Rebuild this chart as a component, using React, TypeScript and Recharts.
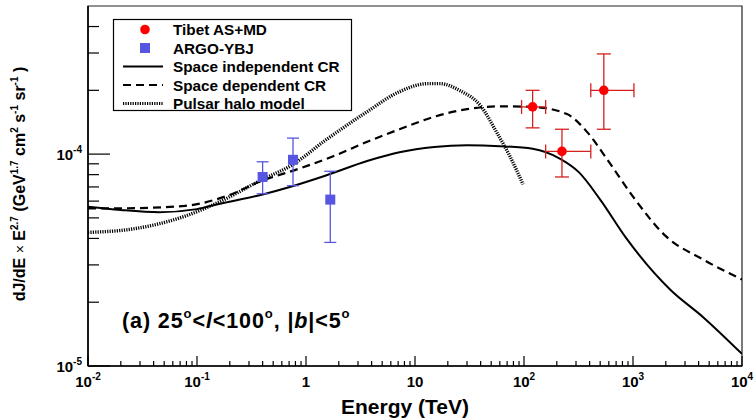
import {
  ComposedChart,
  ErrorBar,
  Line,
  ReferenceArea,
  Scatter,
  XAxis,
  YAxis,
} from "recharts";

const FONT = '"Liberation Sans", Arial, Helvetica, sans-serif';

// model curves: energy (TeV) and dJ/dE x E^2.7
const spaceIndepE = [0.01, 0.02, 0.045, 0.1, 0.155, 0.4, 0.75, 1.5, 3.7, 7.2, 15, 30, 60, 120, 215, 320, 500, 870, 2200, 4400, 10000];
const spaceIndepFlux = [5.65e-5, 5.45e-5, 5.32e-5, 5.5e-5, 5.8e-5, 6.45e-5, 7.05e-5, 7.9e-5, 9.3e-5, 1.02e-4, 1.08e-4, 1.1e-4, 1.09e-4, 1.06e-4, 9.5e-5, 8.2e-5, 6.1e-5, 4.0e-5, 2.29e-5, 1.7e-5, 1.14e-5];

const spaceDepE = [0.01, 0.02, 0.078, 0.18, 0.4, 0.9, 1.8, 3.6, 7.2, 15, 30, 60, 120, 245, 380, 575, 1000, 2000, 4400, 10000];
const spaceDepFlux = [5.55e-5, 5.55e-5, 5.7e-5, 6.3e-5, 7.5e-5, 8.6e-5, 9.8e-5, 1.14e-4, 1.31e-4, 1.5e-4, 1.63e-4, 1.68e-4, 1.67e-4, 1.55e-4, 1.27e-4, 9.5e-5, 6.3e-5, 4.1e-5, 3.18e-5, 2.56e-5];

const pulsarE = [0.01, 0.027, 0.078, 0.155, 0.4, 0.75, 1.5, 3.6, 7.2, 13, 17, 26, 40, 56, 74, 98];
const pulsarFlux = [4.27e-5, 4.45e-5, 5.1e-5, 5.9e-5, 7.6e-5, 8.9e-5, 1.16e-4, 1.58e-4, 1.97e-4, 2.15e-4, 2.15e-4, 1.99e-4, 1.69e-4, 1.27e-4, 9.8e-5, 7.2e-5];

// measurements
const tibetE = [120, 223, 540];
const tibetELow = [95, 158, 410];
const tibetEHigh = [158, 410, 1020];
const tibetFlux = [1.67e-4, 1.03e-4, 2.0e-4];
const tibetFluxLow = [1.33e-4, 7.8e-5, 1.31e-4];
const tibetFluxHigh = [2.0e-4, 1.31e-4, 2.97e-4];

const argoE = [0.4, 0.76, 1.67];
const argoFlux = [7.8e-5, 9.4e-5, 6.1e-5];
const argoFluxLow = [6.5e-5, 7.1e-5, 3.83e-5];
const argoFluxHigh = [9.2e-5, 1.19e-4, 8.3e-5];

// axis ticks
const xMajorTicks = [0.01, 0.1, 1, 10, 100, 1000, 10000];
const xTickBase = ["10", "10", "1", "10", "10", "10", "10"];
const xTickExp = ["-2", "-1", "", "", "2", "3", "4"];
const xMinorTicks = [0.01, 0.1, 1, 10, 100, 1000].flatMap((d) =>
  [2, 3, 4, 5, 6, 7, 8, 9].map((m) => m * d)
);
const yMajorTicks = [1e-5, 1e-4];
const yTickBase = ["10", "10"];
const yTickExp = ["-5", "-4"];
const yMinorTicks = [2e-5, 3e-5, 4e-5, 5e-5, 6e-5, 7e-5, 8e-5, 9e-5, 2e-4, 3e-4, 4e-4];

const toLine = (xs: number[], ys: number[]) => xs.map((x, i) => ({ x, y: ys[i] }));

const spaceIndepData = toLine(spaceIndepE, spaceIndepFlux);
const spaceDepData = toLine(spaceDepE, spaceDepFlux);
const pulsarData = toLine(pulsarE, pulsarFlux);

const tibetData = tibetE.map((x, i) => ({
  x,
  y: tibetFlux[i],
  ex: [x - tibetELow[i], tibetEHigh[i] - x],
  ey: [tibetFlux[i] - tibetFluxLow[i], tibetFluxHigh[i] - tibetFlux[i]],
}));

const argoData = argoE.map((x, i) => ({
  x,
  y: argoFlux[i],
  ey: [argoFlux[i] - argoFluxLow[i], argoFluxHigh[i] - argoFlux[i]],
}));

const findMajor = (ticks: number[], v: number) =>
  ticks.findIndex((t) => Math.abs(t - v) / t < 1e-6);

function XTick({ x, y, payload }: any) {
  const i = findMajor(xMajorTicks, payload.value);
  const len = i >= 0 ? 10 : 5;
  return (
    <g>
      <line x1={x} x2={x} y1={y} y2={y - len} stroke="#000" strokeWidth={1.2} />
      {i >= 0 && (
        <text x={x} y={y + 21} textAnchor="middle" fontFamily={FONT} fontWeight="bold" fontSize={15} fill="#000">
          {xTickBase[i]}
          {xTickExp[i] && (
            <tspan dy={-7} fontSize={10}>
              {xTickExp[i]}
            </tspan>
          )}
        </text>
      )}
    </g>
  );
}

function YTick({ x, y, payload }: any) {
  const i = findMajor(yMajorTicks, payload.value);
  const len = i >= 0 ? 22 : 11;
  return (
    <g>
      <line x1={x} x2={x + len} y1={y} y2={y} stroke="#000" strokeWidth={1.2} />
      {i >= 0 && (
        <text x={x - 6} y={y + 6} textAnchor="end" fontFamily={FONT} fontWeight="bold" fontSize={15} fill="#000">
          {yTickBase[i]}
          <tspan dy={-7} fontSize={10}>
            {yTickExp[i]}
          </tspan>
        </text>
      )}
    </g>
  );
}

function XTitle({ viewBox }: any) {
  return (
    <text x={viewBox.x + 317} y={viewBox.y + 48} textAnchor="middle" fontFamily={FONT} fontWeight="bold" fontSize={21} fill="#000">
      Energy (TeV)
    </text>
  );
}

function YTitle() {
  const sup = (s: string) => (
    <>
      <tspan dy={-7} fontSize={10}>{s}</tspan>
      <tspan dy={7}> </tspan>
    </>
  );
  return (
    <text
      transform="translate(25,184) rotate(-90)"
      textAnchor="middle"
      fontFamily={FONT}
      fontWeight="bold"
      fontSize={16}
      fill="#000"
    >
      dJ/dE <tspan fontWeight="normal" fontSize={14}>×</tspan> E{sup("2.7")}(GeV{sup("1.7")}cm{sup("2")}s{sup("-1")}sr{sup("-1")}
      )
    </text>
  );
}

const redCircle = (p: any) => <circle cx={p.cx} cy={p.cy} r={4.8} fill="#ff0000" />;
const blueSquare = (p: any) => <rect x={p.cx - 5} y={p.cy - 5} width={10} height={10} fill="#5656e0" />;

const legendRows = [
  { name: "Tibet AS+MD", kind: "circle" },
  { name: "ARGO-YBJ", kind: "square" },
  { name: "Space independent CR", kind: "solid" },
  { name: "Space dependent CR", kind: "dashed" },
  { name: "Pulsar halo model", kind: "dotted" },
];

function LegendBox() {
  return (
    <svg width={755} height={419} style={{ position: "absolute", left: 0, top: 0, pointerEvents: "none" }}>
      <rect x={113.5} y={19.5} width={238} height={91} fill="#fff" stroke="#000" strokeWidth={1.2} />
      {legendRows.map((r, i) => {
        const cy = 29.5 + i * 18.5;
        return (
          <g key={r.name}>
            {r.kind === "circle" && <circle cx={145} cy={cy} r={4.8} fill="#ff0000" />}
            {r.kind === "square" && <rect x={140} y={cy - 5} width={10} height={10} fill="#5656e0" />}
            {r.kind === "solid" && <line x1={123} x2={163} y1={cy} y2={cy} stroke="#000" strokeWidth={2} />}
            {r.kind === "dashed" && (
              <line x1={123} x2={163} y1={cy} y2={cy} stroke="#000" strokeWidth={2.2} strokeDasharray="8 5" />
            )}
            {r.kind === "dotted" && (
              <line x1={123} x2={163} y1={cy} y2={cy} stroke="#000" strokeWidth={3.2} strokeDasharray="1.2 1.2" />
            )}
            <text x={173} y={cy + 5.5} fontFamily={FONT} fontWeight="bold" fontSize={15.3} fill="#000">
              {r.name}
            </text>
          </g>
        );
      })}
      <text x={122} y={328} fontFamily={FONT} fontWeight="bold" fontSize={21.5} letterSpacing={0.9} fill="#000">
        (a) 25
        <tspan dy={-10} fontSize={13}>o</tspan>
        <tspan dy={10}>&lt;</tspan>
        <tspan fontStyle="italic">l</tspan>
        &lt;100
        <tspan dy={-10} fontSize={13}>o</tspan>
        <tspan dy={10}>, |</tspan>
        <tspan fontStyle="italic">b</tspan>
        |&lt;5
        <tspan dy={-10} fontSize={13}>o</tspan>
      </text>
    </svg>
  );
}

export default function App() {
  return (
    <div style={{ position: "absolute", left: 0, top: 0, width: 755, height: 419, background: "#fff" }}>
      <ComposedChart width={755} height={419} margin={{ top: 6, right: 13, bottom: 0, left: 0 }}>
        <ReferenceArea
          x1={0.01}
          x2={10000}
          y1={1e-5}
          y2={5e-4}
          fill="none"
          stroke="#222"
          strokeWidth={1.2}
          ifOverflow="visible"
        />
        <XAxis
          dataKey="x"
          type="number"
          scale="log"
          domain={[0.01, 10000]}
          allowDataOverflow
          ticks={[...xMajorTicks, ...xMinorTicks].sort((a, b) => a - b)}
          interval={0}
          tickSize={0}
          tickMargin={0}
          tickLine={false}
          tick={<XTick />}
          height={53}
          axisLine={{ stroke: "#000", strokeWidth: 1.6 }}
          label={{ content: <XTitle /> }}
        />
        <YAxis
          dataKey="y"
          type="number"
          scale="log"
          domain={[1e-5, 5e-4]}
          allowDataOverflow
          ticks={[...yMajorTicks, ...yMinorTicks].sort((a, b) => a - b)}
          interval={0}
          tickSize={0}
          tickMargin={0}
          tickLine={false}
          tick={<YTick />}
          width={88}
          axisLine={{ stroke: "#000", strokeWidth: 1.6 }}
          label={{ content: <YTitle /> }}
        />
        <Line data={spaceIndepData} dataKey="y" type="monotone" stroke="#000" strokeWidth={2} dot={false} isAnimationActive={false} />
        <Line
          data={spaceDepData}
          dataKey="y"
          type="monotone"
          stroke="#000"
          strokeWidth={2.2}
          strokeDasharray="8 5"
          dot={false}
          isAnimationActive={false}
        />
        <Line
          data={pulsarData}
          dataKey="y"
          type="monotone"
          stroke="#000"
          strokeWidth={3.4}
          strokeDasharray="1.2 1.2"
          dot={false}
          isAnimationActive={false}
        />
        <Scatter data={argoData} dataKey="y" shape={blueSquare} isAnimationActive={false}>
          <ErrorBar dataKey="ey" direction="y" width={6} stroke="#5656e0" strokeWidth={1.3} />
        </Scatter>
        <Scatter data={tibetData} dataKey="y" shape={redCircle} isAnimationActive={false}>
          <ErrorBar dataKey="ey" direction="y" width={7} stroke="#d42020" strokeWidth={1.3} />
          <ErrorBar dataKey="ex" direction="x" width={7} stroke="#d42020" strokeWidth={1.3} />
        </Scatter>
      </ComposedChart>
      <LegendBox />
    </div>
  );
}
